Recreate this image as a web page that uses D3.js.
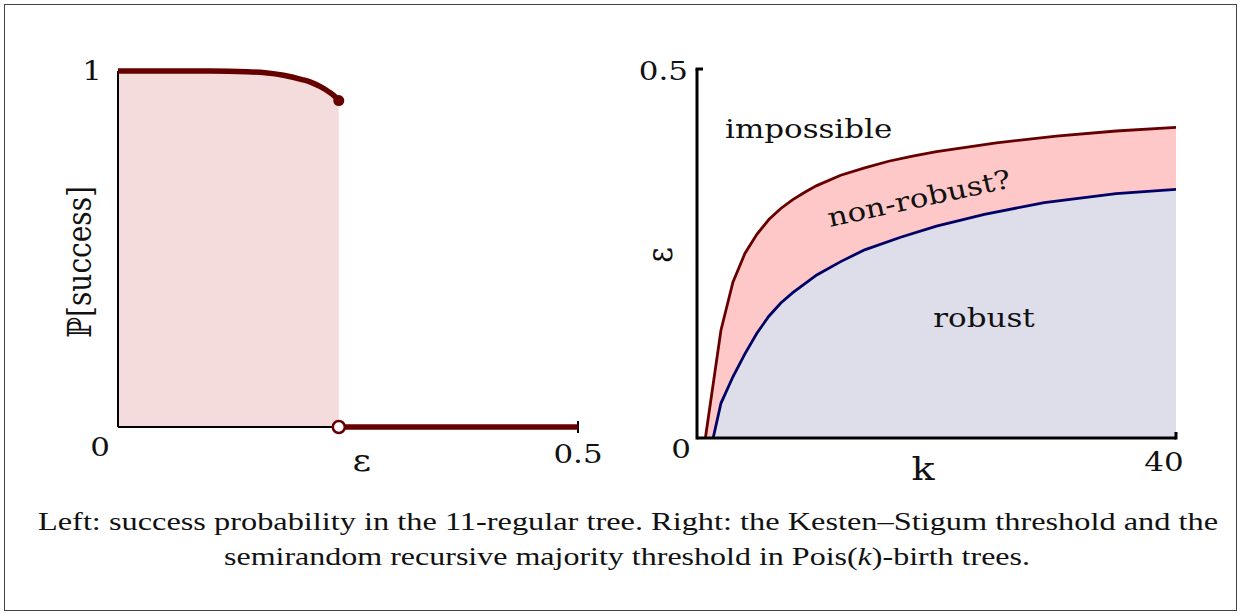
<!DOCTYPE html>
<html>
<head>
<meta charset="utf-8">
<script src="https://cdn.jsdelivr.net/npm/d3@7"></script>
<style>
  body { margin: 0; background: #fff; }
  svg { display: block; }
  .lbl { font-family: "DejaVu Serif", serif; fill: #111; }
  .cap { font-family: "Liberation Serif", serif; fill: #111; }
</style>
</head>
<body>
<svg id="chart" width="1241" height="614"></svg>
<script>
// Left panel: success probability vs epsilon (11-regular tree)
var leftEps  = [0, 0.05, 0.1, 0.14, 0.16, 0.18, 0.2, 0.21, 0.22, 0.23, 0.235, 0.24];
var leftProb = [1, 1, 1, 0.998, 0.995, 0.988, 0.976, 0.968, 0.956, 0.94, 0.93, 0.917];
var jumpEps = 0.24;
var leftXTicks = [0, 0.5];
var leftYTicks = [0, 1];

// Right panel: thresholds vs k (Pois(k)-birth trees)
var ksK   = [0.7, 2, 3, 4, 5, 6, 7, 8, 9, 10, 12, 14, 16, 18, 20, 25, 30, 35, 40];
var ksEps = [0, 0.146, 0.211, 0.25, 0.276, 0.296, 0.311, 0.323, 0.333, 0.342, 0.356, 0.366, 0.375, 0.382, 0.388, 0.4, 0.409, 0.416, 0.421];
var srK   = [1.35, 2, 3, 4, 5, 6, 7, 8, 10, 12, 14, 17, 20, 24, 29, 35, 40];
var srEps = [0, 0.047, 0.083, 0.114, 0.142, 0.165, 0.183, 0.197, 0.221, 0.239, 0.255, 0.272, 0.287, 0.303, 0.319, 0.331, 0.337];
var rightXTicks = [0, 40];
var rightYTicks = [0, 0.5];

var RED = "#660000", BLUE = "#000066";
var STRETCH = 1.19;   // the figure text is a bit wider than tall

var svg = d3.select("#chart");

// text helper: place, rotate, then widen along the baseline
function label(x, y, txt, size, anchor, angle) {
    return svg.append("text")
        .attr("class", "lbl")
        .attr("text-anchor", anchor || "start")
        .attr("font-size", size)
        .attr("transform", "translate(" + x + "," + y + ") rotate(" + (angle || 0) + ") scale(" + STRETCH + ",1)")
        .text(txt);
}

// outer frame
svg.append("rect")
    .attr("x", 4.5).attr("y", 4.5)
    .attr("width", 1232).attr("height", 606)
    .attr("fill", "none").attr("stroke", "#444").attr("stroke-width", 1);

/*****************************************************************************
 *  Left panel
 */
var xL = d3.scaleLinear().domain([0, 0.5]).range([118, 578]);
var yL = d3.scaleLinear().domain([0, 1]).range([427, 71]);
var leftPts = leftEps.map((e, i) => [e, leftProb[i]]);

svg.append("path")
    .datum(leftPts)
    .attr("fill", "#f4dcdc")
    .attr("d", d3.area().x(d => xL(d[0])).y0(yL(0)).y1(d => yL(d[1])).curve(d3.curveMonotoneX));

// axes lines
svg.append("line")
    .attr("x1", xL(0)).attr("x2", xL(0)).attr("y1", yL(0)).attr("y2", yL(1))
    .attr("stroke", "#000").attr("stroke-width", 2);
svg.append("line")
    .attr("x1", xL(0)).attr("x2", xL(0.5)).attr("y1", yL(0)).attr("y2", yL(0))
    .attr("stroke", "#000").attr("stroke-width", 2);
svg.append("line")
    .attr("x1", xL(0.5)).attr("x2", xL(0.5)).attr("y1", yL(0) - 6).attr("y2", yL(0) + 6)
    .attr("stroke", "#000").attr("stroke-width", 2);

svg.append("path")
    .datum(leftPts)
    .attr("fill", "none").attr("stroke", RED).attr("stroke-width", 5.5)
    .attr("d", d3.line().x(d => xL(d[0])).y(d => yL(d[1])).curve(d3.curveMonotoneX));

svg.append("line")
    .attr("x1", xL(jumpEps)).attr("x2", xL(0.5)).attr("y1", yL(0)).attr("y2", yL(0))
    .attr("stroke", RED).attr("stroke-width", 5.5);

svg.append("circle")
    .attr("cx", xL(jumpEps)).attr("cy", yL(leftProb[leftProb.length - 1])).attr("r", 5.5)
    .attr("fill", RED);
svg.append("circle")
    .attr("cx", xL(jumpEps)).attr("cy", yL(0)).attr("r", 6)
    .attr("fill", "#fff").attr("stroke", RED).attr("stroke-width", 2.5);

// tick labels
label(xL(0) - 16, yL(1) + 9, leftYTicks[1], 26, "end");
label(xL(0) - 18, yL(0) + 29, leftYTicks[0], 26, "middle");
label(xL(0.5), yL(0) + 36, leftXTicks[1], 26, "middle");
label(xL(jumpEps) + 23, yL(0) + 44, "ε", 30, "middle");
label(91, 262, "ℙ[success]", 28, "middle", -90)
    .attr("transform", "translate(91,262) rotate(-90) scale(1," + STRETCH + ")");

/*****************************************************************************
 *  Right panel
 */
var xR = d3.scaleLinear().domain([0, 40]).range([697, 1176]);
var yR = d3.scaleLinear().domain([0, 0.5]).range([438, 69]);
var ksPts = ksK.map((k, i) => [k, ksEps[i]]);
var srPts = srK.map((k, i) => [k, srEps[i]]);

svg.append("path")
    .datum(ksPts)
    .attr("fill", "#ffc8c8")
    .attr("d", d3.area().x(d => xR(d[0])).y0(yR(0)).y1(d => yR(d[1])));
svg.append("path")
    .datum(srPts)
    .attr("fill", "#dedeea")
    .attr("d", d3.area().x(d => xR(d[0])).y0(yR(0)).y1(d => yR(d[1])));

svg.append("path")
    .datum(ksPts)
    .attr("fill", "none").attr("stroke", RED).attr("stroke-width", 2.8)
    .attr("d", d3.line().x(d => xR(d[0])).y(d => yR(d[1])));
svg.append("path")
    .datum(srPts)
    .attr("fill", "none").attr("stroke", BLUE).attr("stroke-width", 2.8)
    .attr("d", d3.line().x(d => xR(d[0])).y(d => yR(d[1])));

svg.append("line")
    .attr("x1", xR(0)).attr("x2", xR(0)).attr("y1", yR(0) + 1.5).attr("y2", yR(0.5))
    .attr("stroke", "#000").attr("stroke-width", 3);
svg.append("line")
    .attr("x1", xR(0)).attr("x2", xR(40)).attr("y1", yR(0)).attr("y2", yR(0))
    .attr("stroke", "#000").attr("stroke-width", 3);
svg.append("line")
    .attr("x1", xR(0) - 1.5).attr("x2", xR(0) + 6).attr("y1", yR(0.5)).attr("y2", yR(0.5))
    .attr("stroke", "#000").attr("stroke-width", 3);
svg.append("line")
    .attr("x1", xR(40)).attr("x2", xR(40)).attr("y1", yR(0) + 1.5).attr("y2", yR(0) - 6)
    .attr("stroke", "#000").attr("stroke-width", 3);

label(xR(0) - 9, yR(0.5) + 11, rightYTicks[1], 26, "end");
label(xR(0) - 6, yR(0) + 20, rightYTicks[0], 26, "end");
label(xR(40) - 12, yR(0) + 33, rightXTicks[1], 26, "middle");
label(923, yR(0) + 42, "k", 32, "middle");
label(672, 255, "ε", 30, "middle", -90)
    .attr("transform", "translate(672,255) rotate(-90) scale(1," + STRETCH + ")");

label(725, 138, "impossible", 26, "start");
label(921, 207, "non-robust?", 26, "middle", -12.3);
label(984, 327, "robust", 26, "middle");

/*****************************************************************************
 *  Caption
 */
svg.append("text").attr("class", "cap").attr("text-anchor", "start")
    .attr("x", 38).attr("y", 530).attr("font-size", 25)
    .attr("textLength", 1180).attr("lengthAdjust", "spacingAndGlyphs")
    .text("Left: success probability in the 11-regular tree. Right: the Kesten\u2013Stigum threshold and the");
var cap2 = svg.append("text").attr("class", "cap").attr("text-anchor", "start")
    .attr("x", 224).attr("y", 565).attr("font-size", 25)
    .attr("textLength", 806).attr("lengthAdjust", "spacingAndGlyphs");
cap2.append("tspan").text("semirandom recursive majority threshold in Pois(");
cap2.append("tspan").attr("font-style", "italic").text("k");
cap2.append("tspan").text(")-birth trees.");
</script>
</body>
</html>
